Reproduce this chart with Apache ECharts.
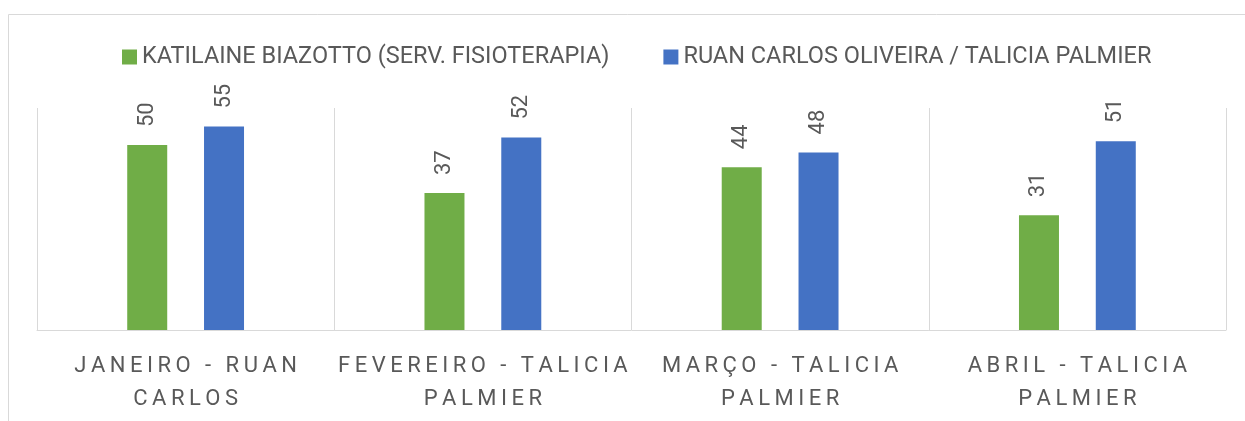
<!DOCTYPE html>
<html>
<head>
<meta charset="utf-8">
<script src="https://cdn.jsdelivr.net/npm/echarts@6/dist/echarts.min.js"></script>
<style>
  html, body { margin: 0; padding: 0; background: #fff; }
  #chart { width: 1245px; height: 421px; }
</style>
</head>
<body>
<div id="chart"></div>
<script>
const categories = ['JANEIRO - RUAN\nCARLOS', 'FEVEREIRO - TALICIA\nPALMIER', 'MARÇO - TALICIA\nPALMIER', 'ABRIL - TALICIA\nPALMIER'];
const seriesNames = ['KATILAINE BIAZOTTO (SERV. FISIOTERAPIA)', 'RUAN CARLOS OLIVEIRA / TALICIA PALMIER'];
const katilaine = [50, 37, 44, 31];
const ruanTalicia = [55, 52, 48, 51];

// spaced-out capitals like the Excel axis labels
function spaced(s) {
  return s.split('\n').map(line => line.split('').join('\u2009')).join('\n');
}

const chart = echarts.init(document.getElementById('chart'));
const labelStyle = {
  show: true,
  position: 'top',
  rotate: 90,
  align: 'left',
  verticalAlign: 'middle',
  distance: 18,
  color: '#595959',
  fontSize: 22,
  fontFamily: 'Roboto'
};
chart.setOption({
  animation: false,
  textStyle: { fontFamily: 'Roboto' },
  graphic: [{
    type: 'rect',
    shape: { x: 8.5, y: 14.5, width: 1400, height: 600 },
    style: { fill: 'none', stroke: '#d9d9d9', lineWidth: 1 },
    silent: true
  }],
  legend: {
    left: 117,
    top: 40,
    itemWidth: 15,
    itemHeight: 15,
    itemGap: 54,
    icon: 'rect',
    textStyle: { color: '#595959', fontSize: 23.5, fontFamily: 'Roboto' },
    data: seriesNames
  },
  grid: { left: 37, right: 19, top: 108, bottom: 91, containLabel: false },
  xAxis: {
    type: 'category',
    data: categories,
    axisLine: { lineStyle: { color: '#d9d9d9', width: 1 } },
    axisTick: { show: false },
    splitLine: { show: true, lineStyle: { color: '#d9d9d9', width: 1 } },
    axisLabel: {
      color: '#595959',
      fontSize: 22,
      fontFamily: 'Roboto',
      lineHeight: 33,
      margin: 20,
      interval: 0,
      formatter: v => spaced(v)
    }
  },
  yAxis: {
    type: 'value',
    min: 0,
    max: 60,
    show: false,
    splitLine: { show: false }
  },
  series: [
    {
      name: seriesNames[0],
      type: 'bar',
      data: katilaine,
      barWidth: 40,
      barGap: '92%',
      itemStyle: { color: '#70ad47' },
      label: labelStyle
    },
    {
      name: seriesNames[1],
      type: 'bar',
      data: ruanTalicia,
      barWidth: 40,
      itemStyle: { color: '#4472c4' },
      label: labelStyle
    }
  ]
});
</script>
</body>
</html>
